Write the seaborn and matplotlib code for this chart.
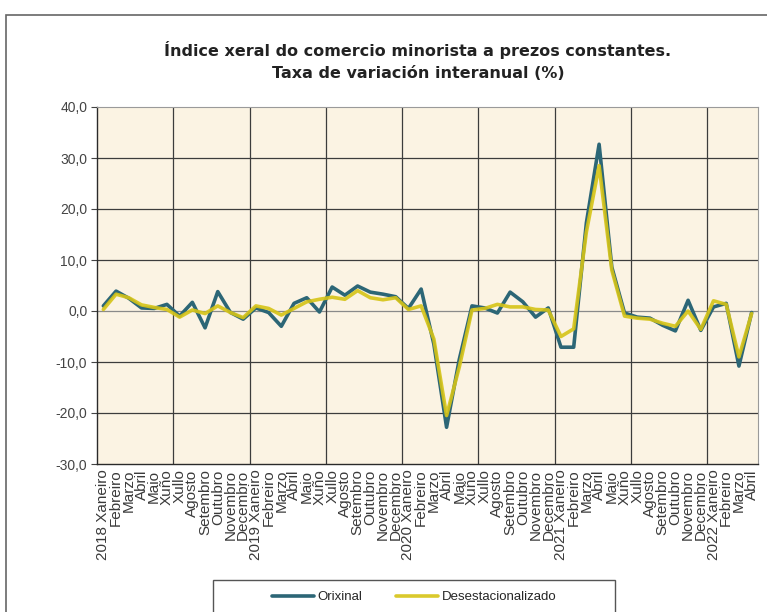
import pandas as pd
import numpy as np
import matplotlib.pyplot as plt
import matplotlib.patches as mpatches
from matplotlib.ticker import FuncFormatter
import seaborn as sns

# data
years = ['2018', '2019', '2020', '2021', '2022']
months = ['Xaneiro', 'Febreiro', 'Marzo', 'Abril', 'Maio', 'Xuño', 'Xullo',
          'Agosto', 'Setembro', 'Outubro', 'Novembro', 'Decembro']

orixinal = [1.0, 3.9, 2.5, 0.6, 0.5, 1.3, -1.0, 1.7, -3.3, 3.8, -0.3, -1.6,
            0.6, -0.3, -3.0, 1.5, 2.6, -0.2, 4.7, 3.1, 4.9, 3.7, 3.3, 2.8,
            0.5, 4.3, -6.5, -22.8, -9.5, 1.0, 0.6, -0.4, 3.7, 1.8, -1.2, 0.6,
            -7.1, -7.1, 17.3, 32.7, 8.6, -0.4, -1.2, -1.4, -2.8, -3.9, 2.1, -3.8,
            0.8, 1.5, -10.8, -0.3]

desestacionalizado = [0.3, 3.3, 2.6, 1.2, 0.7, 0.3, -1.2, 0.2, -0.5, 1.0, -0.3, -1.3,
                      1.0, 0.5, -0.8, 0.5, 1.8, 2.3, 2.7, 2.3, 4.0, 2.6, 2.2, 2.6,
                      0.3, 1.0, -5.5, -20.5, -11.0, 0.2, 0.5, 1.3, 0.8, 0.8, 0.3, 0.2,
                      -5.0, -3.5, 15.5, 28.5, 8.0, -1.0, -1.4, -1.6, -2.4, -3.0, 0.0, -3.6,
                      2.0, 1.3, -9.0, -0.5]

labels = []
for y in years:
    for m in months:
        labels.append(f'{y} {m}' if m == 'Xaneiro' else m)
labels = labels[:len(orixinal)]

df = pd.DataFrame({'pos': np.arange(len(orixinal)),
                   'Orixinal': orixinal,
                   'Desestacionalizado': desestacionalizado})

# setup
sns.set_theme(style='white')
plt.rcParams['font.family'] = ['Liberation Sans', 'DejaVu Sans']

fig = plt.figure(figsize=(7.67, 6.12), dpi=100)
ax = fig.add_axes([97 / 767, 1 - 464 / 612, (758 - 97) / 767, (464 - 107) / 612])
ax.set_facecolor('#fbf3e3')

grid_c = '#3c3c3c'
for v in range(-20, 40, 10):
    ax.axhline(v, color=grid_c if v != 0 else '#8a8a8a', lw=0.9, zorder=1)
for k in range(1, 9):
    ax.axvline(-0.5 + 6 * k, color=grid_c, lw=0.9, zorder=1)

sns.lineplot(data=df, x='pos', y='Orixinal', ax=ax, color='#2c6676', lw=2.6,
             label='Orixinal', zorder=3)
sns.lineplot(data=df, x='pos', y='Desestacionalizado', ax=ax, color='#d6c416',
             lw=2.6, alpha=0.9, label='Desestacionalizado', zorder=4)

ax.set_xlim(-0.5, len(orixinal) - 0.5)
ax.set_ylim(-30, 40)
ax.set_yticks(range(-30, 41, 10))
ax.yaxis.set_major_formatter(FuncFormatter(lambda v, p: f'{v:.1f}'.replace('.', ',')))
ax.set_xticks(df['pos'])
ax.set_xticklabels(labels, rotation=90, fontsize=11, color='#3a3a3a', va='top', ha='center')
ax.tick_params(axis='y', labelsize=10, colors='#444444', length=4, width=0.8,
               direction='out', left=True, pad=3)
ax.tick_params(axis='x', length=0, pad=4)
ax.set_xlabel('')
ax.set_ylabel('')
for s in ['top', 'right']:
    ax.spines[s].set_color('#9a9a9a')
    ax.spines[s].set_linewidth(0.8)
for s in ['left', 'bottom']:
    ax.spines[s].set_color('#2a2a2a')
    ax.spines[s].set_linewidth(1.0)

# title
fig.text(418 / 767, 1 - 50 / 612, 'Índice xeral do comercio minorista a prezos constantes.',
         ha='center', va='center', fontsize=11.5, fontweight='bold',
         family=['DejaVu Sans'], color='#222222')
fig.text(418 / 767, 1 - 74 / 612, 'Taxa de variación interanual (%)',
         ha='center', va='center', fontsize=11.5, fontweight='bold',
         family=['DejaVu Sans'], color='#222222')

# legend
handles, lbls = ax.get_legend_handles_labels()
ax.get_legend().remove()
fig.legend(handles, lbls, loc='center', bbox_to_anchor=(414 / 767, 1 - 597 / 612),
           ncol=2, frameon=False, fontsize=9.5, handlelength=3.2, columnspacing=2.5,
           handletextpad=0.3)
fig.patches.append(mpatches.Rectangle((213 / 767, -0.05), (615 - 213) / 767,
                                      0.05 + (612 - 580) / 612, transform=fig.transFigure,
                                      fill=False, edgecolor='#555555', lw=1.0))

# outer chart frame
fig.patches.append(mpatches.Rectangle((6 / 767, -0.1), 1.2, 1.1 - 15 / 612,
                                      transform=fig.transFigure, fill=False,
                                      edgecolor='#666666', lw=1.2))

plt.savefig('out.png', dpi=100)
